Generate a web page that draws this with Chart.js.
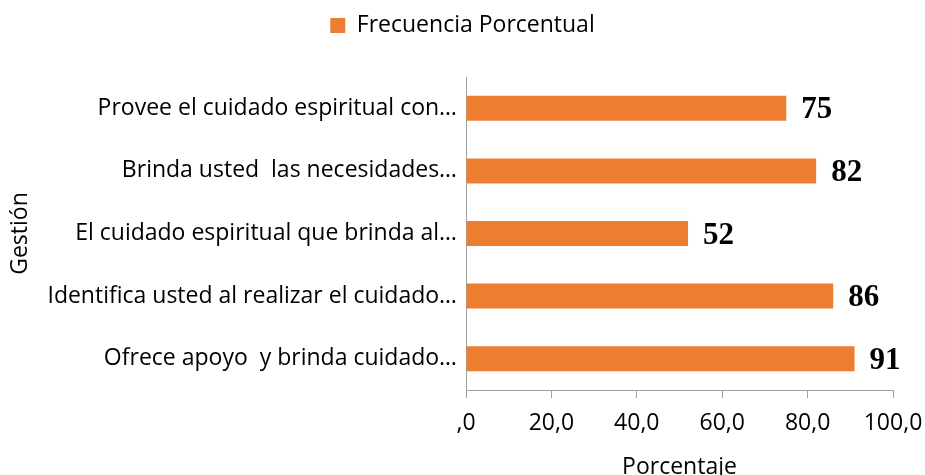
<!DOCTYPE html>
<html>
<head>
<meta charset="utf-8">
<script src="https://cdn.jsdelivr.net/npm/chart.js@4/dist/chart.umd.min.js"></script>
<style>
  html, body { margin: 0; padding: 0; background: #fff; }
  #wrap { width: 925px; height: 475px; }
</style>
</head>
<body>
<div id="wrap"><canvas id="grafico"></canvas></div>
<script>
// datos del gráfico
const categorias = [
    'Provee el cuidado espiritual con…',
    'Brinda usted  las necesidades…',
    'El cuidado espiritual que brinda al…',
    'Identifica usted al realizar el cuidado…',
    'Ofrece apoyo  y brinda cuidado…'
];
const frecuencia = [75, 82, 52, 86, 91];
const etiquetas = ['75', '82', '52', '86', '91'];
const serie = 'Frecuencia Porcentual';

const naranja = '#ED7D31';
const gris = '#A0A0A0';
const fuente = '"Open Sans", "Noto Sans", sans-serif';

// etiquetas de datos al final de cada barra
const etiquetasBarras = {
    id: 'etiquetasBarras',
    afterDatasetsDraw(chart) {
        const ctx = chart.ctx;
        const meta = chart.getDatasetMeta(0);
        ctx.save();
        ctx.font = 'bold 31px "Liberation Serif", "Times New Roman", serif';
        ctx.fillStyle = '#000';
        ctx.textAlign = 'left';
        ctx.textBaseline = 'middle';
        meta.data.forEach((bar, i) => {
            ctx.fillText(etiquetas[i], bar.x + 15, bar.y + 2);
        });
        ctx.restore();
    }
};

// espacio libre debajo de la leyenda y leyenda centrada en el lienzo
const altoLeyenda = {
    id: 'altoLeyenda',
    afterInit(chart) {
        const leyenda = chart.legend;
        if (!leyenda) return;
        const fitOriginal = leyenda.fit.bind(leyenda);
        leyenda.fit = function () {
            fitOriginal();
            this.height = 71;
        };
    },
    beforeDraw(chart) {
        const leyenda = chart.legend;
        if (!leyenda) return;
        leyenda.left = 0;
        leyenda.right = chart.width;
    }
};

const ctx = document.getElementById('grafico').getContext('2d');

const grafico = new Chart(ctx, {
    type: 'bar',
    data: {
        labels: categorias,
        datasets: [{
            label: serie,
            data: frecuencia,
            backgroundColor: naranja,
            borderWidth: 0,
            barPercentage: 0.4,
            categoryPercentage: 1.0
        }]
    },
    options: {
        indexAxis: 'y',
        responsive: true,
        maintainAspectRatio: false,
        animation: false,
        layout: {
            padding: { top: 6, right: 32, bottom: 0, left: 6 }
        },
        plugins: {
            legend: {
                display: true,
                position: 'top',
                labels: {
                    boxWidth: 15,
                    boxHeight: 15,
                    padding: 8,
                    color: '#000',
                    font: { family: fuente, size: 23 }
                }
            },
            tooltip: { enabled: false }
        },
        scales: {
            x: {
                min: 0,
                max: 100,
                ticks: {
                    stepSize: 20,
                    color: '#000',
                    padding: 12,
                    maxRotation: 0,
                    font: { family: fuente, size: 23 },
                    callback: v => v === 0 ? ',0' : v.toFixed(1).replace('.', ',')
                },
                grid: {
                    display: true,
                    drawOnChartArea: false,
                    drawTicks: true,
                    tickLength: 8,
                    color: gris
                },
                border: { display: true, color: gris, width: 1 },
                title: {
                    display: true,
                    text: 'Porcentaje',
                    color: '#000',
                    padding: { top: 6, bottom: -6 },
                    font: { family: fuente, size: 23 }
                },
                afterFit: s => {
                    s.height = 85;
                    s.paddingLeft = 0;
                    s.paddingRight = 0;
                }
            },
            y: {
                ticks: {
                    color: '#000',
                    padding: 1,
                    font: { family: fuente, size: 23 }
                },
                grid: { display: false },
                border: { display: true, color: gris, width: 1 },
                title: {
                    display: true,
                    text: 'Gestión',
                    color: '#000',
                    padding: { top: 1, bottom: 4 },
                    font: { family: fuente, size: 23 }
                },
                afterFit: s => { s.width = 460; }
            }
        }
    },
    plugins: [altoLeyenda, etiquetasBarras]
});
</script>
</body>
</html>
